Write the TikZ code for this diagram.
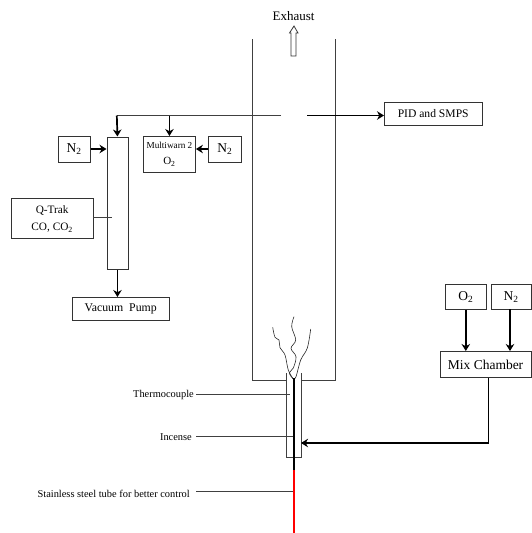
\documentclass[tikz,border=0pt]{standalone}
\usepackage{fontspec}
\setmainfont{Liberation Serif}
\usetikzlibrary{arrows.meta}
\tikzset{
  x=1pt,y=-1pt,
  box/.style={draw=black!80,line width=0.9pt,inner sep=0pt,anchor=north west,align=center},
  thin line/.style={draw=black!75,line width=0.9pt},
  flow/.style={draw=black,line width=1.7pt,-{Stealth[length=7pt,width=8.5pt]}},
  label/.style={inner sep=0pt,font=\fontsize{10.4}{12}\selectfont},
  flame/.style={draw=black!85,line width=0.6pt}
}
\newcommand{\bx}[6]{\node[box,minimum width=#4pt,minimum height=#5pt] (#1) at (#2,#3) {#6};}
\newcommand{\sub}[1]{\textsubscript{#1}}
\newcommand{\fs}[1]{\fontsize{#1}{#1}\selectfont}
\begin{document}
\begin{tikzpicture}
\useasboundingbox (0,0) rectangle (531,533);
\fs{13.5}
% chimney
\coordinate (cTL) at (252,39); \coordinate (cBL) at (252,380);
\coordinate (cTR) at (335.5,39); \coordinate (cBR) at (335.5,380);
\coordinate (gL) at (286.7,380); \coordinate (gR) at (301,380);
\draw[thin line] (cTL) -- (cBL) -- (gL);
\draw[thin line] (gR) -- (cBR) -- (cTR);
% exhaust
\node[font=\fs{13}] (exh) at (293.5,16) {Exhaust};
\draw[draw=black!80,line width=0.8pt,fill=white] (291,56) -- (291,33) -- (289.5,33) -- (294,26) -- (298,33) -- (296,33) -- (296,56) -- cycle;
% boxes
\bx{nl}{57.5}{136}{32.5}{26}{N\sub{2}}
\bx{col}{106.5}{136.5}{21}{132.5}{}
\bx{mw}{143}{136}{52}{36}{\rule{0pt}{6pt}{\fs{9.2}Multiwarn 2}\\[2.5pt]{\fs{11}O\sub{2}}}
\bx{nr}{208}{136}{33}{26}{N\sub{2}}
\bx{qt}{11}{198}{81.5}{40}{\rule{0pt}{9pt}{\fs{11.3}Q-Trak}\\[4pt]{\fs{11.3}CO, CO\sub{2}}}
\bx{vp}{71.5}{297}{97.5}{23}{\fs{11.8}Vacuum\ \ Pump}
\bx{pid}{384}{101.5}{97.5}{23.5}{\fs{11.6}PID and SMPS}
\bx{ot}{444.7}{284}{41.3}{25}{\raisebox{-1.5pt}{O\sub{2}}}
\bx{nt}{490.7}{284}{39.8}{25}{\raisebox{-1.5pt}{N\sub{2}}}
\bx{mix}{439.7}{351}{90.8}{26}{Mix Chamber}
% sampling line
\coordinate (sL) at (281,115.5);
\coordinate (sC) at (116.8,115.5);
\coordinate (sR) at (307,115.5);
\draw[thin line] (sL) -- (sC);
\draw[flow] (sC) -- (col.north);
\draw[flow] (mw.north |- sC) -- (mw.north);
\draw[flow] (sR) -- (pid.west |- sR);
\draw[flow] (nl.east |- 0,149) -- (col.west |- 0,149);
\draw[flow] (nr.west |- 0,149) -- (mw.east |- 0,149);
\coordinate (qe) at (111.5,217.5);
\draw[thin line] (qt.east |- qe) -- (qe);
\draw[flow] (col.south) -- (col.south |- vp.north);
\draw[flow] (ot.south) -- (ot.south |- mix.north);
\draw[flow] (510,309) -- (510,351);
% tube: open at the top
\coordinate (tTL) at (286.7,373); \coordinate (tBL) at (286.7,457);
\coordinate (tTR) at (301,373);   \coordinate (tBR) at (301,457);
\draw[thin line] (tTL) -- (tBL) -- (tBR) -- (tTR);
\coordinate (core) at (293.8,378);
\coordinate (coreJ) at (293.8,470);
\coordinate (coreE) at (293.8,533);
\draw[flame] plot[smooth,tension=0.6] coordinates {(272.7,327.3) (275,337.3) (279,340) (280,347.7) (285,355) (288.3,370) (293.3,379)};
\draw[flame] plot[smooth,tension=0.6] coordinates {(294,316.7) (291.7,326.7) (295.7,340) (291,348.3) (296,356.7) (293.3,368) (289.3,373) (293.3,379)};
\draw[flame] plot[smooth,tension=0.6] coordinates {(310.7,329) (307.3,348) (300.7,360) (296,376.7) (293.3,379)};
\draw[black,line width=2pt] (core) -- (coreJ);
\draw[red,line width=2.5pt] (coreJ) -- (coreE);
% feed
\coordinate (fc) at (488.7,443);
\draw[draw=black,line width=1.4pt] (mix.south -| fc) -- (fc);
\draw[flow] (fc) -- (tBR |- fc);
% labels
\node[label,anchor=east] (th) at (194,394.5) {Thermocouple};
\node[label,anchor=east] (inc) at (192,437.5) {Incense};
\node[label,anchor=east] (ss) at (190,493.5) {Stainless steel tube for better control};
\coordinate (thS) at (196,394); \coordinate (thE) at (290,394);
\coordinate (incS) at (196,436); \coordinate (incE) at (293,436);
\coordinate (ssS) at (196,491.7); \coordinate (ssE) at (293,491.7);
\draw[thin line] (thS) -- (thE);
\draw[thin line] (incS) -- (incE);
\draw[thin line] (ssS) -- (ssE);
\end{tikzpicture}
\end{document}
